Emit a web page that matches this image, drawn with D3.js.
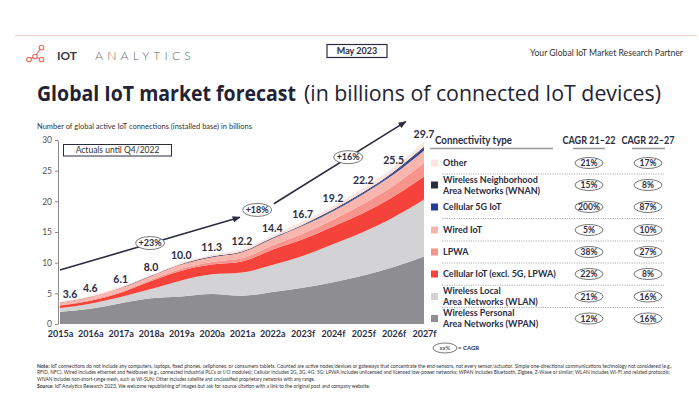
<!DOCTYPE html>
<html>
<head>
<meta charset="utf-8">
<script src="https://cdn.jsdelivr.net/npm/d3@7"></script>
<style>
  body { margin: 0; background: #fff; }
  svg text { font-family: Lato, "Open Sans", sans-serif; fill: #2b2d3f; }
</style>
</head>
<body>
<div id="chart"></div>
<script>
// ---- data (billions of connected IoT devices) ----
const years = ["2015a", "2016a", "2017a", "2018a", "2019a", "2020a", "2021a",
               "2022a", "2023f", "2024f", "2025f", "2026f", "2027f"];
const totals = [3.6, 4.6, 6.1, 8.0, 10.0, 11.3, 12.2, 14.4, 16.7, 19.2, 22.2, 25.5, 29.7];

const wpan     = [2.0, 2.5, 3.4, 4.2, 4.5, 4.9, 4.6, 5.2, 5.9, 6.8, 7.9, 9.3, 11.0];
const wlan     = [0.6, 0.8, 1.0, 1.5, 2.6, 3.2, 3.8, 4.4, 5.2, 6.2, 7.1, 8.1, 9.3];
const cellular = [0.4, 0.5, 0.7, 1.3, 1.6, 1.6, 1.8, 2.5, 2.7, 2.9, 3.1, 3.4, 3.7];
const lpwa     = [0.05, 0.1, 0.15, 0.2, 0.3, 0.4, 0.5, 0.7, 0.9, 1.1, 1.5, 1.8, 2.3];
const wired    = [0.4, 0.5, 0.6, 0.6, 0.7, 0.8, 1.0, 1.1, 1.3, 1.4, 1.6, 1.8, 2.0];
const cell5g   = [0, 0, 0, 0, 0, 0, 0.01, 0.02, 0.05, 0.1, 0.15, 0.25, 0.4];
const wnan     = [0.05, 0.05, 0.07, 0.08, 0.1, 0.11, 0.12, 0.14, 0.15, 0.16, 0.17, 0.19, 0.2];
const other    = [0.1, 0.15, 0.18, 0.12, 0.2, 0.29, 0.37, 0.34, 0.5, 0.54, 0.68, 0.66, 0.8];

// legend rows, top to bottom
const legendKeys = ["other", "wnan", "cell5g", "wired", "lpwa", "cellular", "wlan", "wpan"];
const legendLabels = [["Other"], ["Wireless Neighborhood", "Area Networks (WNAN)"], ["Cellular 5G IoT"],
  ["Wired IoT"], ["LPWA"], ["Cellular IoT (excl. 5G, LPWA)"], ["Wireless Local", "Area Networks (WLAN)"],
  ["Wireless Personal", "Area Networks (WPAN)"]];
const cagr2122 = ["21%", "15%", "200%", "5%", "38%", "22%", "21%", "12%"];
const cagr2227 = ["17%", "8%", "87%", "10%", "27%", "8%", "16%", "16%"];

// overall CAGR annotation (year index, value in billions)
const cagrLabels = ["+23%", "+18%", "+16%"];
const cagrAt = [[2.97, 13.2], [6.5, 18.6], [9.5, 27.2]];
const trendA = [[0, 8.8], [5.93, 17.4]];
const trendB = [[7.05, 19.6], [11.4, 33.0]];

const yTicks = [0, 5, 10, 15, 20, 25, 30];

const notePrefix = ["Note: ", "", "", "Source: "];
const noteLines = [
  "IoT connections do not include any computers, laptops, fixed phones, cellphones, or consumers tablets. Counted are active nodes/devices or gateways that concentrate the end-sensors, not every sensor/actuator. Simple one-directional communications technology not considered (e.g.,",
  "RFID, NFC). Wired includes ethernet and fieldbuses (e.g., connected industrial PLCs or I/O modules); Cellular includes 2G, 3G, 4G, 5G; LPWA includes unlicensed and licensed low-power networks; WPAN includes Bluetooth, Zigbee, Z-Wave or similar; WLAN includes Wi-Fi and related protocols;",
  "WNAN includes non-short-range mesh, such as Wi-SUN; Other includes satellite and unclassified proprietary networks with any range.",
  "IoT Analytics Research 2023. We welcome republishing of images but ask for source citation with a link to the original post and company website."
];

// ---- setup ----
const W = 699, H = 397;
const dark = "#2b2d3f";
const colors = {
  wpan: "#8e8e92", wlan: "#d3d3d5", cellular: "#f5423a", lpwa: "#f7958c",
  wired: "#f9b6af", cell5g: "#1f3d98", wnan: "#2b2d3f", other: "#fde4e2"
};

const svg = d3.select("#chart").append("svg")
  .attr("width", W).attr("height", H);

// stretch/squeeze a text to a known width
function fit(sel, w) {
  sel.attr("textLength", w).attr("lengthAdjust", "spacingAndGlyphs");
}

// ---- header ----
svg.append("line").attr("x1", 15).attr("x2", 697).attr("y1", 35.5).attr("y2", 35.5)
  .attr("stroke", "#f6d0cf").attr("stroke-width", 1);

// logo
const logo = svg.append("g").attr("stroke", "#f0685c").attr("fill", "#fff").attr("stroke-width", 1.1);
const nodes = [[29, 59.5], [35, 56.5], [41.5, 59.5], [41.5, 47.5]];
logo.append("path").attr("fill", "none")
  .attr("d", "M29,59.5 L35,56.5 L41.5,59.5 M35,56.5 L41.5,47.5");
logo.selectAll("circle").data(nodes).join("circle")
  .attr("cx", d => d[0]).attr("cy", d => d[1]).attr("r", 2.3);
svg.append("text").attr("x", 57).attr("y", 60).text("IOT")
  .style("font-size", "12px").style("font-weight", 700).style("fill", "#3a3a42")
  .call(fit, 20);
svg.append("text").attr("x", 95).attr("y", 60).text("ANALYTICS")
  .style("font-size", "12px").style("font-weight", 300).style("fill", "#6a6a70")
  .style("letter-spacing", "4px")
  .call(fit, 100);

svg.append("rect").attr("x", 327).attr("y", 44.5).attr("width", 60).attr("height", 13)
  .attr("fill", "#fff").attr("stroke", dark).attr("stroke-width", 1.2);
svg.append("text").attr("x", 357).attr("y", 54.2).attr("text-anchor", "middle")
  .text("May 2023").style("font-size", "9px").style("font-weight", 700);

svg.append("text").attr("x", 683).attr("y", 56).attr("text-anchor", "end")
  .text("Your Global IoT Market Research Partner").style("font-size", "9px").style("fill", "#333")
  .call(fit, 153);

// title
svg.append("text").attr("x", 37).attr("y", 100.5).text("Global IoT market forecast")
  .style("font-family", "'Open Sans', sans-serif").style("font-size", "22px")
  .style("font-weight", 700).style("fill", "#1f2335")
  .call(fit, 259);
svg.append("text").attr("x", 304).attr("y", 100.5).text("(in billions of connected IoT devices)")
  .style("font-family", "'Open Sans', sans-serif").style("font-size", "22px")
  .style("fill", "#1f2335")
  .call(fit, 357);

svg.append("text").attr("x", 37).attr("y", 129).style("font-size", "8px").style("fill", "#333")
  .text("Number of global active IoT connections (installed base) in billions")
  .call(fit, 215);

// ---- chart ----
const x = d3.scaleLinear().domain([0, years.length - 1]).range([60, 424]);
const y = d3.scaleLinear().domain([0, 30]).range([324, 140]);

const rows = years.map((yr, i) => ({
  wpan: wpan[i], wlan: wlan[i], cellular: cellular[i], lpwa: lpwa[i],
  wired: wired[i], cell5g: cell5g[i], wnan: wnan[i], other: other[i]
}));
const stackKeys = ["wpan", "wlan", "cellular", "lpwa", "wired", "cell5g", "wnan", "other"];
const series = d3.stack().keys(stackKeys)(rows);

const area = d3.area()
  .curve(d3.curveMonotoneX)
  .x((d, i) => x(i))
  .y0(d => y(d[0]))
  .y1(d => y(d[1]));

svg.append("g").selectAll("path").data(series).join("path")
  .attr("d", area)
  .attr("fill", d => colors[d.key]);

// axes
const yAxis = d3.axisLeft(y).tickValues(yTicks).tickSize(3).tickSizeOuter(0).tickPadding(3);
const gy = svg.append("g").attr("transform", "translate(58,0)").call(yAxis);
gy.select(".domain").attr("stroke", "#8a8a8a");
gy.selectAll(".tick line").attr("stroke", "#8a8a8a");
gy.selectAll(".tick text").style("font-size", "8.5px").style("fill", "#555")
  .style("font-family", "Lato, sans-serif");

const xAxis = d3.axisBottom(x).tickValues(d3.range(years.length))
  .tickFormat(i => years[i]).tickSize(0).tickPadding(7);
const gx = svg.append("g").attr("transform", "translate(0,324)").call(xAxis);
gx.select(".domain").remove();
gx.selectAll(".tick text").style("font-size", "9px").style("font-weight", 700)
  .style("fill", dark).style("font-family", "Lato, sans-serif");

// totals
svg.append("g").selectAll("text").data(totals).join("text")
  .attr("x", (d, i) => i === 0 ? x(i) + 10 : x(i))
  .attr("y", d => y(d) - 4)
  .attr("text-anchor", "middle")
  .style("font-size", "10.5px").style("font-weight", 700)
  .text(d => d.toFixed(1));

// actuals box
svg.append("rect").attr("x", 63.5).attr("y", 144.5).attr("width", 108).attr("height", 11.5)
  .attr("fill", "#fff").attr("stroke", dark).attr("stroke-width", 1);
svg.append("text").attr("x", 117.5).attr("y", 153.3).attr("text-anchor", "middle")
  .style("font-size", "8.5px").style("fill", "#333").text("Actuals until Q4/2022");

// trend arrows
svg.append("defs").append("marker")
  .attr("id", "arr").attr("viewBox", "0 0 10 10").attr("refX", 9).attr("refY", 5)
  .attr("markerWidth", 5).attr("markerHeight", 5).attr("orient", "auto")
  .append("path").attr("d", "M0,1 L10,5 L0,9 z").attr("fill", dark);

const trendLine = d3.line().x(d => x(d[0])).y(d => y(d[1]));
svg.append("g").selectAll("path").data([trendA, trendB]).join("path")
  .attr("d", trendLine)
  .attr("fill", "none").attr("stroke", dark).attr("stroke-width", 1.6)
  .attr("marker-end", "url(#arr)");

const cg = svg.append("g").selectAll("g").data(cagrLabels).join("g")
  .attr("transform", (d, i) => `translate(${x(cagrAt[i][0])},${y(cagrAt[i][1])})`);
cg.append("ellipse").attr("rx", 14.5).attr("ry", 6.5)
  .attr("fill", "#fff").attr("stroke", "#555").attr("stroke-width", 0.8);
cg.append("text").attr("text-anchor", "middle").attr("y", 3.3)
  .style("font-size", "9px").style("font-weight", 700).text(d => d);

// ---- legend table ----
svg.append("text").attr("x", 435).attr("y", 143.5).text("Connectivity type")
  .style("font-size", "10.5px").style("font-weight", 700).call(fit, 77);
svg.append("text").attr("x", 589).attr("y", 143.5).attr("text-anchor", "middle").text("CAGR 21–22")
  .style("font-size", "10.5px").style("font-weight", 700).call(fit, 53);
svg.append("text").attr("x", 648).attr("y", 143.5).attr("text-anchor", "middle").text("CAGR 22–27")
  .style("font-size", "10.5px").style("font-weight", 700).call(fit, 53);

[[430, 553], [573, 605], [632, 665]].forEach(([a, b]) => {
  svg.append("line").attr("x1", a).attr("x2", b).attr("y1", 148.5).attr("y2", 148.5)
    .attr("stroke", "#9a9a9a").attr("stroke-width", 1.5);
});

const rowY = [163, 185, 207, 230, 252, 274, 296.5, 318.5];
const sepAfter = [0, 2, 3, 4, 5, 6];
svg.append("g").selectAll("line").data(sepAfter).join("line")
  .attr("x1", 442).attr("x2", 664)
  .attr("y1", i => (rowY[i] + rowY[i + 1]) / 2).attr("y2", i => (rowY[i] + rowY[i + 1]) / 2)
  .attr("stroke", "#999").attr("stroke-width", 0.8).attr("stroke-dasharray", "1.2,1.2");

const lg = svg.append("g").selectAll("g").data(legendKeys).join("g")
  .attr("transform", (d, i) => `translate(0,${rowY[i]})`);
lg.append("rect").attr("x", 431).attr("y", -3.5).attr("width", 7).attr("height", 7)
  .attr("fill", d => colors[d]);
lg.each(function(d, i) {
  const g = d3.select(this);
  const lines = legendLabels[i];
  lines.forEach((t, j) => {
    g.append("text").attr("x", 443)
      .attr("y", (j - (lines.length - 1) / 2) * 11 + 3.3)
      .style("font-size", "9px").style("font-weight", 700).text(t);
  });
  [[589, cagr2122[i]], [648, cagr2227[i]]].forEach(([cx, t]) => {
    g.append("ellipse").attr("cx", cx).attr("rx", 14).attr("ry", 5.5)
      .attr("fill", "#fff").attr("stroke", "#555").attr("stroke-width", 0.8);
    g.append("text").attr("x", cx).attr("y", 3).attr("text-anchor", "middle")
      .style("font-size", "8.5px").style("font-weight", 700).text(t);
  });
});

// xx% = CAGR key
svg.append("ellipse").attr("cx", 445).attr("cy", 348).attr("rx", 12).attr("ry", 5)
  .attr("fill", "#fff").attr("stroke", "#555").attr("stroke-width", 0.8);
svg.append("text").attr("x", 445).attr("y", 350).attr("text-anchor", "middle")
  .style("font-size", "6px").text("xx%");
svg.append("text").attr("x", 458).attr("y", 350).style("font-size", "6px").style("font-weight", 700)
  .text("= CAGR");

// ---- footnote ----
// each line is cut into word chunks, then the chunks are squeezed together to the line width
const noteY = [367.5, 374.3, 381.1, 387.9];
const noteW = [635, 633, 278, 333];
const noteG = svg.append("g").style("font-size", "5.2px");

noteLines.forEach((line, i) => {
  const words = line.split(" ");
  const nParts = line.length > 200 ? 3 : 2;
  const step = Math.ceil(words.length / nParts);
  const parts = d3.range(nParts).map(j => words.slice(j * step, (j + 1) * step).join(" "));
  const els = parts.map((p, j) => {
    const t = noteG.append("text").attr("x", 37).attr("y", noteY[i]).style("fill", "#333");
    if (j === 0 && notePrefix[i]) t.append("tspan").style("font-weight", 700).text(notePrefix[i]);
    t.append("tspan").text(p);
    return t;
  });
  const n = els.map(t => t.node().getComputedTextLength());
  const gap = 1.4;
  const k = noteW[i] / (d3.sum(n) + gap * (nParts - 1));
  let cur = 37;
  els.forEach((t, j) => {
    t.attr("x", cur).call(fit, n[j] * k);
    cur += (n[j] + gap) * k;
  });
});
</script>
</body>
</html>
